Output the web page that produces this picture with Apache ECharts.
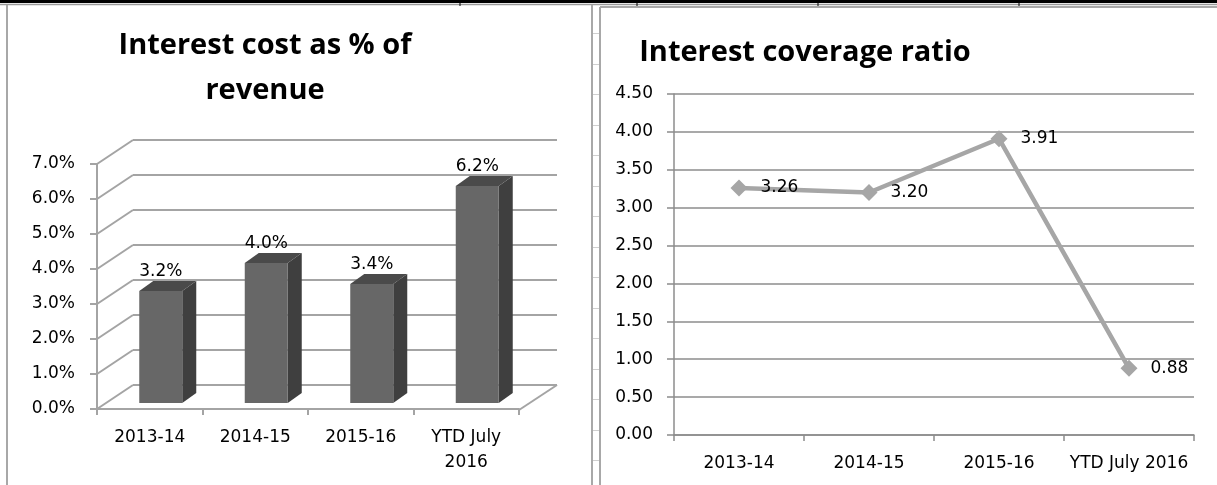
<!DOCTYPE html>
<html><head><meta charset="utf-8">
<script src="https://cdn.jsdelivr.net/npm/echarts@6/dist/echarts.min.js"></script>
<style>html,body{margin:0;padding:0;background:#fff;}#c{width:1217px;height:485px;}</style>
</head><body><div id="c"></div>
<script>
// ---- data ----
const barCategories = ['2013-14', '2014-15', '2015-16', 'YTD July\n2016'];
const lineCategories = ['2013-14', '2014-15', '2015-16', 'YTD July 2016'];
const costPct = [3.2, 4.0, 3.4, 6.2];
const coverageRatio = [3.26, 3.20, 3.91, 0.88];
const pctTicks = [0, 1, 2, 3, 4, 5, 6, 7];
const leftTitle = 'Interest cost as % of\nrevenue';
const rightTitle = 'Interest coverage ratio';

const FONT = '"DejaVu Sans", sans-serif';
const wallColor = '#a4a4a4';
const gridColor = '#8c8c8c';

const chart = echarts.init(document.getElementById('c'), null, {renderer: 'canvas'});

const graphics = [];
graphics.push({type: 'rect', shape: {x: 0, y: 0, width: 1217, height: 3}, style: {fill: '#000'}, silent: true});
graphics.push({type: 'line', shape: {x1: 0, y1: 4.5, x2: 1217, y2: 4.5}, style: {stroke: '#9a9a9a', lineWidth: 1.5}, silent: true});
[460, 637, 818, 1019].forEach(x => graphics.push({type: 'line', shape: {x1: x, y1: 0, x2: x, y2: 6}, style: {stroke: '#000', lineWidth: 1}, silent: true}));
graphics.push({type: 'line', shape: {x1: 7, y1: 5, x2: 7, y2: 485}, style: {stroke: '#a8a8a8', lineWidth: 2}, silent: true});
graphics.push({type: 'line', shape: {x1: 592, y1: 5, x2: 592, y2: 485}, style: {stroke: '#a8a8a8', lineWidth: 2}, silent: true});
graphics.push({type: 'line', shape: {x1: 600, y1: 7, x2: 600, y2: 485}, style: {stroke: '#a8a8a8', lineWidth: 2}, silent: true});
graphics.push({type: 'line', shape: {x1: 600, y1: 7, x2: 1217, y2: 7}, style: {stroke: '#a8a8a8', lineWidth: 2}, silent: true});
for (let y = 33; y < 485; y += 30.5) {
  graphics.push({type: 'line', shape: {x1: 593, y1: Math.round(y) + 0.5, x2: 599, y2: Math.round(y) + 0.5}, style: {stroke: '#cfcfcf', lineWidth: 1}, silent: true});
}

const option = {
  backgroundColor: '#fff',
  animation: false,
  title: [
    {text: leftTitle, left: 260, top: 18, textAlign: 'center',
     textStyle: {fontFamily: '"Open Sans", sans-serif', fontWeight: 'bold', fontSize: 29, lineHeight: 45, color: '#000'}},
    {text: rightTitle, left: 800, top: 33, textAlign: 'center',
     textStyle: {fontFamily: '"Open Sans", sans-serif', fontWeight: 'bold', fontSize: 29, color: '#000'}}
  ],
  grid: [
    {left: 97, top: 164, width: 422, height: 245, containLabel: false},
    {left: 133, top: 140, width: 424, height: 245, containLabel: false},
    {left: 674, top: 94, width: 520, height: 341, containLabel: false}
  ],
  xAxis: [
    {gridIndex: 0, type: 'category', data: barCategories, boundaryGap: true,
     axisLine: {show: true, lineStyle: {color: wallColor, width: 2}},
     axisTick: {show: true, length: 6, lineStyle: {color: wallColor, width: 2}},
     axisLabel: {color: '#000', fontFamily: FONT, fontSize: 17, lineHeight: 25, margin: 16, interval: 0}},
    {gridIndex: 1, type: 'value', min: 0, max: 1, show: false},
    {gridIndex: 2, type: 'category', data: lineCategories, boundaryGap: true,
     axisLine: {show: true, lineStyle: {color: gridColor, width: 1.5}},
     axisTick: {show: true, length: 6, lineStyle: {color: gridColor, width: 1.5}},
     axisLabel: {color: '#000', fontFamily: FONT, fontSize: 17, lineHeight: 20, margin: 19, interval: 0}}
  ],
  yAxis: [
    {gridIndex: 0, type: 'value', min: 0, max: 7, interval: 1,
     axisLine: {show: true, lineStyle: {color: wallColor, width: 2}},
     axisTick: {show: true, length: 7, lineStyle: {color: wallColor, width: 2}},
     splitLine: {show: false},
     axisLabel: {color: '#000', fontFamily: FONT, fontSize: 17, margin: 22, formatter: v => v.toFixed(1) + '%'}},
    {gridIndex: 1, type: 'value', min: 0, max: 7, interval: 1,
     axisLine: {show: false}, axisTick: {show: false}, axisLabel: {show: false},
     splitLine: {show: true, lineStyle: {color: wallColor, width: 2}}},
    {gridIndex: 2, type: 'value', min: 0, max: 4.5, interval: 0.5,
     axisLine: {show: true, lineStyle: {color: gridColor, width: 1.5}},
     axisTick: {show: true, length: 7, lineStyle: {color: gridColor, width: 1.5}},
     splitLine: {show: true, lineStyle: {color: gridColor, width: 1.5}},
     axisLabel: {color: '#000', fontFamily: FONT, fontSize: 17, margin: 21, formatter: v => v.toFixed(2)}}
  ],
  series: [
    // side wall and floor edges, drawn from the back wall's value axis
    {type: 'custom', xAxisIndex: 1, yAxisIndex: 1, silent: true, z: 1,
     data: pctTicks.map(t => [0, t]),
     renderItem: function (params, api) {
       const p = api.coord([0, api.value(1)]);
       const children = [{type: 'line', shape: {x1: p[0], y1: p[1], x2: p[0] - 36, y2: p[1] + 24},
                          style: {stroke: wallColor, lineWidth: 2}}];
       if (api.value(1) === 0) {
         const r = api.coord([1, 0]);
         children.push({type: 'line', shape: {x1: r[0], y1: r[1], x2: r[0] - 38, y2: r[1] + 25},
                        style: {stroke: wallColor, lineWidth: 2}});
       }
       return {type: 'group', children: children};
     }},
    // 3D bars
    {type: 'custom', xAxisIndex: 0, yAxisIndex: 0, silent: true, z: 3,
     data: costPct.map((v, i) => [i, v]),
     renderItem: function (params, api) {
       const i = api.value(0), v = api.value(1);
       const top = api.coord([i, v]);
       const base = api.coord([i, 0]);
       const w = 43, ox = 11, oy = -6, dx = 14, dy = -10;
       const x0 = top[0] + ox - w / 2, x1 = x0 + w;
       const yt = top[1] + oy, yb = base[1] + oy;
       return {type: 'group', children: [
         {type: 'polygon', shape: {points: [[x1, yt], [x1 + dx, yt + dy], [x1 + dx, yb + dy], [x1, yb]]}, style: {fill: '#3f3f3f'}},
         {type: 'polygon', shape: {points: [[x0, yt], [x0 + dx, yt + dy], [x1 + dx, yt + dy], [x1, yt]]}, style: {fill: '#4a4a4a'}},
         {type: 'rect', shape: {x: x0, y: yt, width: w, height: yb - yt}, style: {fill: '#676767'}},
         {type: 'text', style: {text: v.toFixed(1) + '%', x: x0 + w / 2, y: yt - 11, align: 'center', verticalAlign: 'bottom',
                                fontFamily: FONT, fontSize: 17, fill: '#000'}}
       ]};
     }},
    // line chart
    {type: 'line', xAxisIndex: 2, yAxisIndex: 2, data: coverageRatio,
     symbol: 'diamond', symbolSize: 17, showAllSymbol: true,
     lineStyle: {color: '#a6a6a6', width: 4.5},
     itemStyle: {color: '#a6a6a6'},
     label: {show: true, position: 'right', distance: 13, color: '#000', fontFamily: FONT, fontSize: 17,
             formatter: p => p.value.toFixed(2)}}
  ],
  graphic: graphics
};
chart.setOption(option);
</script>
</body></html>
